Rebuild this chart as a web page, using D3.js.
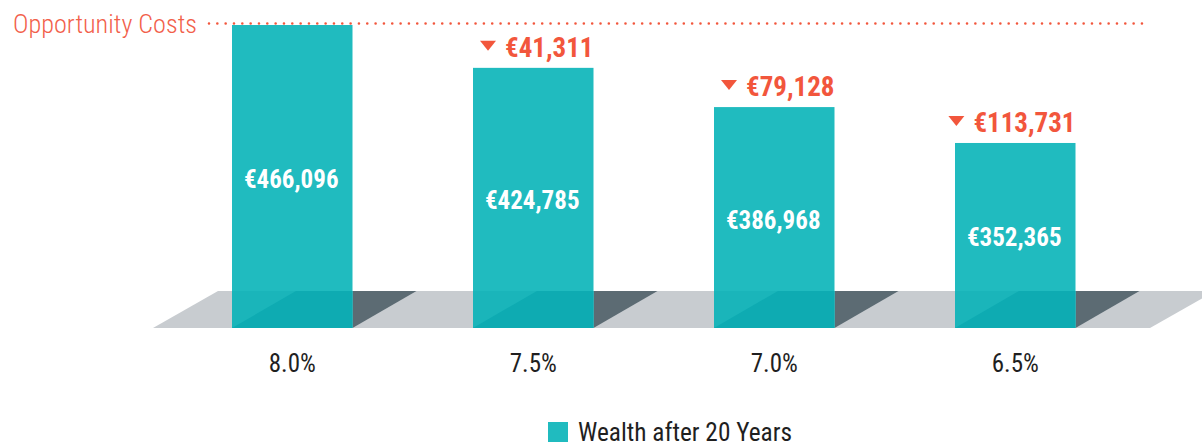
<!DOCTYPE html>
<html>
<head>
<meta charset="utf-8">
<script src="https://cdn.jsdelivr.net/npm/d3@7"></script>
<style>
  body { margin: 0; background: #fff; }
  svg { display: block; }
  text { font-family: "Liberation Sans Narrow", "Roboto Condensed", "Roboto", sans-serif; }
</style>
</head>
<body>
<div id="chart"></div>
<script>
// Data
const rates = ['8.0%', '7.5%', '7.0%', '6.5%'];
const wealth = [466096, 424785, 386968, 352365];
const costs = [null, 41311, 79128, 113731];
const seriesName = 'Wealth after 20 Years';
const costLabel = 'Opportunity Costs';

const width = 1202, height = 446;
const floorTop = 291, floorBottom = 328, slant = 65;
const teal = '#20BBBF', red = '#F2563C';

const svg = d3.select('#chart').append('svg')
    .attr('width', width)
    .attr('height', height);

const x = d3.scaleBand()
    .domain(rates)
    .range([171.75, 1135.75])
    .paddingInner(0.5)
    .paddingOuter(0.25);

const y = d3.scaleLinear()
    .domain([174000, d3.max(wealth)])
    .range([floorBottom, 25]);

const fmt = v => '€' + d3.format(',')(v);
const bw = x.bandwidth();

// floor
svg.append('polygon')
    .attr('points', [[153, floorBottom], [1150, floorBottom], [1150 + slant, floorTop], [153 + slant, floorTop]].join(' '))
    .attr('fill', '#C8CCD0');

// shadows behind bars
svg.selectAll('.shadow')
    .data(rates)
    .enter()
    .append('polygon')
    .attr('class', 'shadow')
    .attr('points', d => {
        const r = x(d) + bw;
        return [[r, floorTop], [r + slant - 1, floorTop], [r, floorBottom]].join(' ');
    })
    .attr('fill', '#5C6B73');

// bars
svg.selectAll('.bar')
    .data(wealth)
    .enter()
    .append('rect')
    .attr('class', 'bar')
    .attr('x', (d, i) => x(rates[i]))
    .attr('y', d => y(d))
    .attr('width', bw)
    .attr('height', d => floorBottom - y(d))
    .attr('fill', teal);

// bar parts sitting on the floor
svg.selectAll('.bar-floor')
    .data(rates)
    .enter()
    .append('rect')
    .attr('x', d => x(d))
    .attr('y', floorTop)
    .attr('width', bw)
    .attr('height', floorBottom - floorTop)
    .attr('fill', '#0EABB2');

svg.selectAll('.bar-floor-tri')
    .data(rates)
    .enter()
    .append('polygon')
    .attr('points', d => {
        const l = x(d);
        return [[l, floorTop], [l + slant - 1, floorTop], [l, floorBottom]].join(' ');
    })
    .attr('fill', '#1AB5BA');

// value labels inside bars
svg.selectAll('.value')
    .data(wealth)
    .enter()
    .append('text')
    .attr('x', (d, i) => x(rates[i]) + bw / 2 - 1)
    .attr('y', d => (y(d) + floorBottom) / 2 + 11)
    .attr('text-anchor', 'middle')
    .attr('fill', '#fff')
    .attr('font-size', 25)
    .attr('font-weight', 'bold')
    .text(fmt);

// opportunity cost labels
const costG = svg.selectAll('.cost')
    .data(costs.map((c, i) => ({ c, i })).filter(d => d.c !== null))
    .enter()
    .append('g');

costG.append('text')
    .attr('x', d => x(rates[d.i]) + bw)
    .attr('y', d => y(wealth[d.i]) - 11)
    .attr('text-anchor', 'end')
    .attr('fill', red)
    .attr('font-size', 27)
    .attr('font-weight', 'bold')
    .text(d => fmt(d.c));

costG.each(function(d) {
    const g = d3.select(this);
    const t = g.select('text');
    const right = x(rates[d.i]) + bw;
    const left = right - t.node().getComputedTextLength();
    const ty = y(wealth[d.i]) - 22;
    g.append('polygon')
        .attr('points', [[left - 25, ty - 5], [left - 9, ty - 5], [left - 17, ty + 5]].join(' '))
        .attr('fill', red);
});

// top dotted line
svg.append('line')
    .attr('x1', 209)
    .attr('x2', 1142)
    .attr('y1', 23.5)
    .attr('y2', 23.5)
    .attr('stroke', red)
    .attr('stroke-width', 2.6)
    .attr('stroke-linecap', 'round')
    .attr('stroke-dasharray', '0 8.33');

svg.append('text')
    .attr('x', 13)
    .attr('y', 33)
    .attr('fill', '#F2604A')
    .attr('font-size', 26)
    .attr('font-weight', 300)
    .attr('textLength', 184)
    .attr('lengthAdjust', 'spacingAndGlyphs')
    .text(costLabel);

// x axis labels
const axis = d3.axisBottom(x).tickSize(0).tickPadding(0);
const axisG = svg.append('g')
    .attr('transform', `translate(0, ${352})`)
    .call(axis);
axisG.select('.domain').remove();
axisG.selectAll('text')
    .attr('dy', 0)
    .attr('y', 20)
    .attr('fill', '#1f1f1f')
    .attr('font-size', 25)
    .style('font-family', '"Liberation Sans Narrow", "Roboto Condensed", "Roboto", sans-serif');

// legend
const legend = svg.append('g').attr('transform', 'translate(548, 422)');
legend.append('rect')
    .attr('width', 20)
    .attr('height', 20)
    .attr('fill', teal);
legend.append('text')
    .attr('x', 30)
    .attr('y', 19)
    .attr('fill', '#1f1f1f')
    .attr('font-size', 25)
    .attr('textLength', 214)
    .attr('lengthAdjust', 'spacingAndGlyphs')
    .text(seriesName);
</script>
</body>
</html>
